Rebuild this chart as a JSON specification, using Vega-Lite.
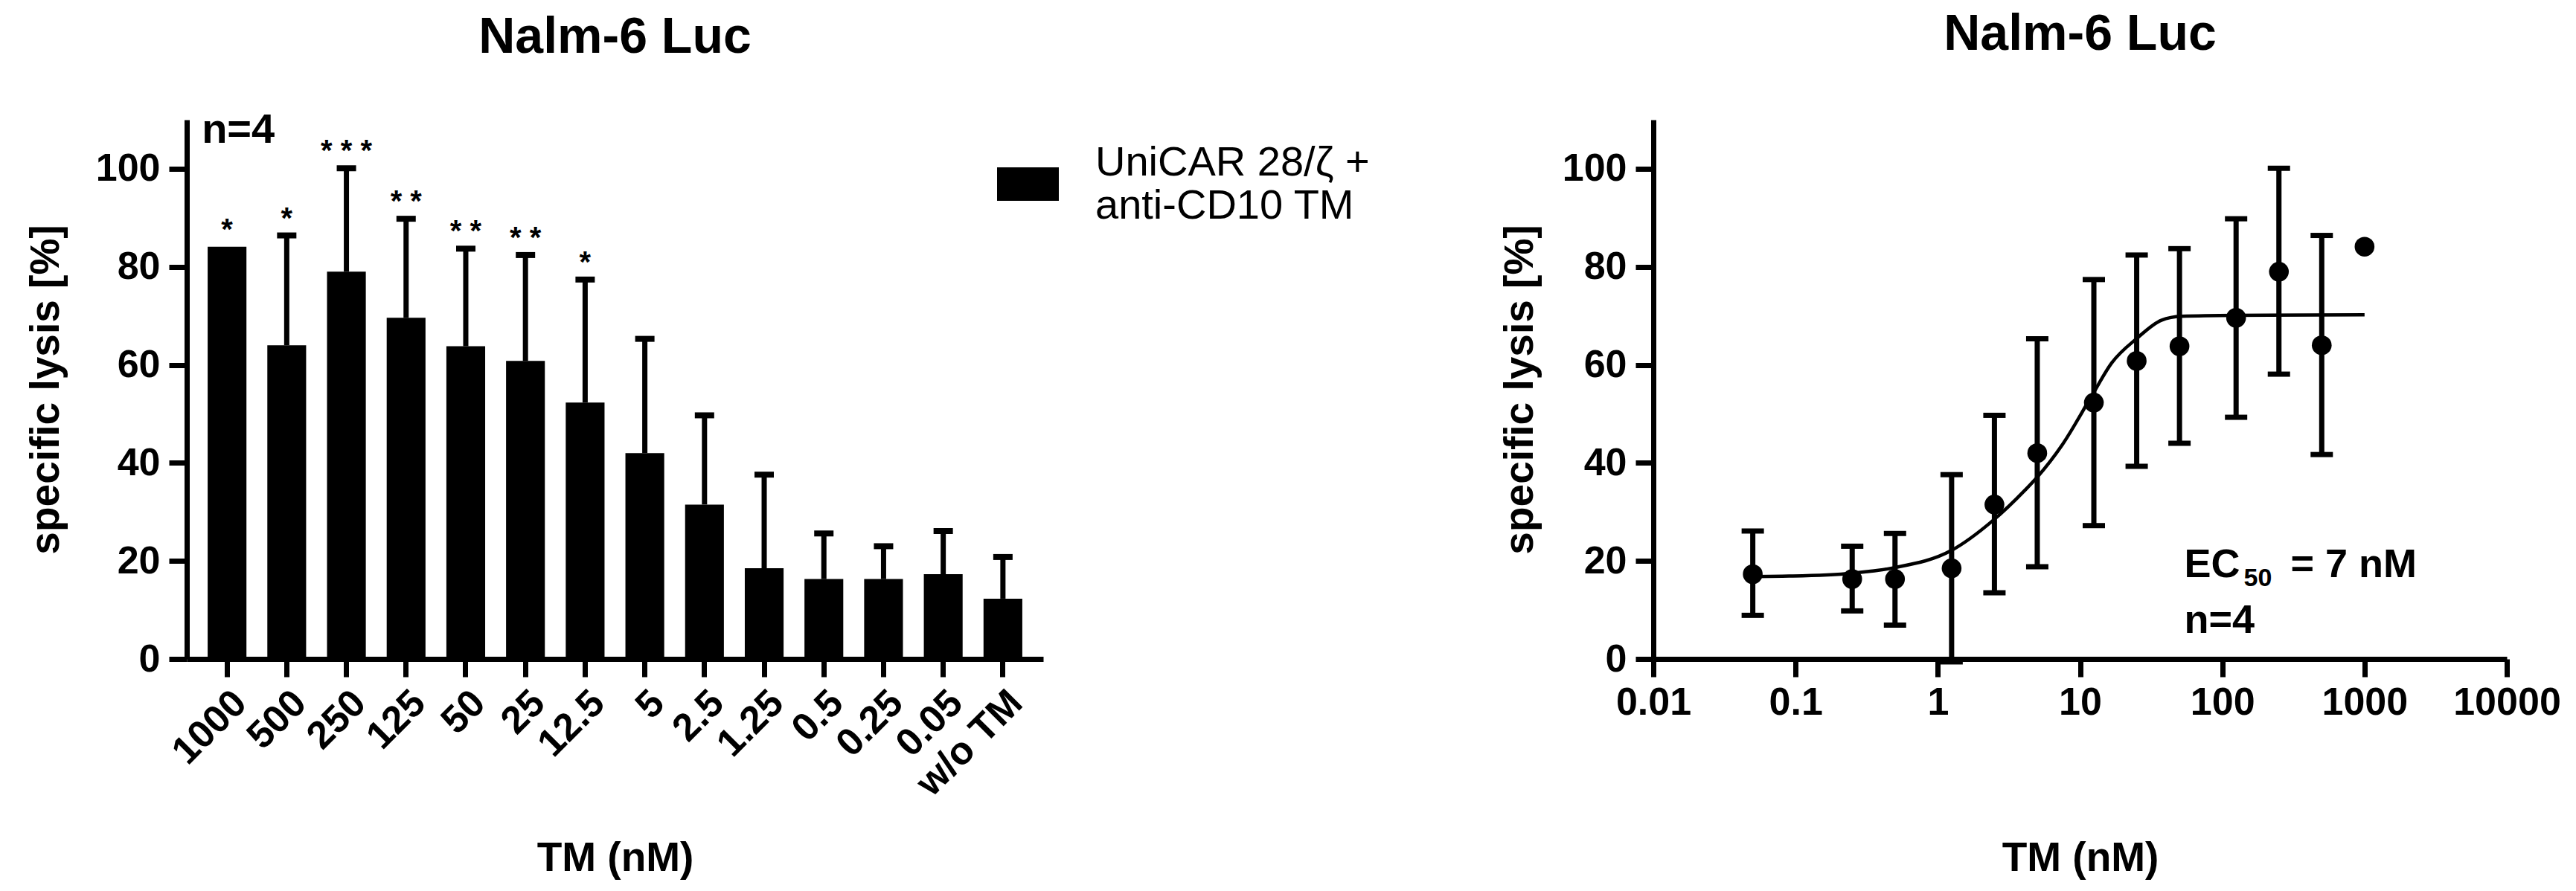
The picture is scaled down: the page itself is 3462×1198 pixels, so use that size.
{
  "$schema": "https://vega.github.io/schema/vega-lite/v6.json",
  "background": "white",
  "padding": {"left": 34, "top": 13, "right": 10, "bottom": 10},
  "datasets": {
    "lysis": [
      {"label": "1000", "conc": 1000, "mean": 84.1, "upper": null, "lower": null, "sig": "*"},
      {"label": "500", "conc": 500, "mean": 64.0, "upper": 86.4, "lower": 41.7, "sig": "*"},
      {"label": "250", "conc": 250, "mean": 79.0, "upper": 100.1, "lower": 58.1, "sig": "* * *"},
      {"label": "125", "conc": 125, "mean": 69.6, "upper": 89.8, "lower": 49.3, "sig": "* *"},
      {"label": "50", "conc": 50, "mean": 63.8, "upper": 83.7, "lower": 44.0, "sig": "* *"},
      {"label": "25", "conc": 25, "mean": 60.8, "upper": 82.4, "lower": 39.3, "sig": "* *"},
      {"label": "12.5", "conc": 12.5, "mean": 52.3, "upper": 77.4, "lower": 27.2, "sig": "*"},
      {"label": "5", "conc": 5, "mean": 42.0, "upper": 65.3, "lower": 18.8, "sig": ""},
      {"label": "2.5", "conc": 2.5, "mean": 31.5, "upper": 49.7, "lower": 13.5, "sig": ""},
      {"label": "1.25", "conc": 1.25, "mean": 18.5, "upper": 37.6, "lower": -0.6, "sig": ""},
      {"label": "0.5", "conc": 0.5, "mean": 16.3, "upper": 25.6, "lower": 6.9, "sig": ""},
      {"label": "0.25", "conc": 0.25, "mean": 16.3, "upper": 23.0, "lower": 9.8, "sig": ""},
      {"label": "0.05", "conc": 0.05, "mean": 17.3, "upper": 26.1, "lower": 8.9, "sig": ""},
      {"label": "w/o TM", "conc": null, "mean": 12.3, "upper": 20.8, "lower": null, "sig": ""}
    ],
    "fit": [
      {"x": 0.05, "y": 16.8},
      {"x": 0.09, "y": 16.9},
      {"x": 0.25, "y": 17.5},
      {"x": 0.49, "y": 18.6},
      {"x": 1.24, "y": 22.1},
      {"x": 2.43, "y": 28.2},
      {"x": 4.12, "y": 34.5},
      {"x": 5.0, "y": 37.1},
      {"x": 7.5, "y": 43.7},
      {"x": 12.2, "y": 53.9},
      {"x": 16.7, "y": 60.4},
      {"x": 25.1, "y": 65.4},
      {"x": 37.3, "y": 69.1},
      {"x": 51.6, "y": 69.9},
      {"x": 124, "y": 70.1},
      {"x": 1000, "y": 70.2}
    ]
  },
  "config": {
    "view": {"stroke": null},
    "font": "Liberation Sans",
    "axis": {
      "domainColor": "black", "domainWidth": 7, "tickColor": "black", "tickWidth": 7, "tickSize": 24,
      "labelColor": "black", "labelFont": "Liberation Sans", "labelFontSize": 52, "labelFontWeight": "bold",
      "titleColor": "black", "titleFont": "Liberation Sans", "titleFontSize": 55, "titleFontWeight": "bold",
      "grid": false
    },
    "axisY": {"labelPadding": 12},
    "axisX": {"labelPadding": 9},
    "title": {"fontSize": 68, "fontWeight": "bold", "font": "Liberation Sans", "color": "black", "anchor": "middle", "frame": "group", "baseline": "alphabetic"}
  },
  "spacing": 613,
  "hconcat": [
    {
      "width": 1151,
      "height": 725,
      "title": {"text": "Nalm-6 Luc", "offset": 62},
      "data": {"name": "lysis"},
      "layer": [
        {
          "mark": {"type": "bar"},
          "encoding": {
            "x": {"field": "label", "type": "nominal", "sort": null,
              "scale": {"paddingInner": 0.35, "paddingOuter": 0.35},
              "axis": {"title": "TM (nM)", "labelAngle": -45, "titleY": 284, "titleBaseline": "alphabetic"}},
            "y": {"field": "mean", "type": "quantitative",
              "scale": {"domain": [0, 110], "nice": false},
              "axis": {"title": "specific lysis [%]", "values": [0, 20, 40, 60, 80, 100], "titleX": -173, "titleBaseline": "alphabetic"}},
            "color": {"datum": "UniCAR 28/ζ + anti-CD10 TM", "scale": {"range": ["#000000"]},
              "legend": {"orient": "none", "legendX": 1089, "legendY": 45, "title": null, "padding": 0,
                "labelExpr": "['UniCAR 28/ζ +', 'anti-CD10 TM']",
                "labelFontSize": 56, "labelFontWeight": "normal", "labelFont": "Liberation Sans", "labelColor": "black",
                "labelLimit": 0, "labelOffset": 49, "labelBaseline": "bottom",
                "symbolType": "M-1,-0.54L1,-0.54L1,0.54L-1,0.54Z", "symbolSize": 6889,
                "symbolFillColor": "black", "symbolStrokeWidth": 0, "symbolOpacity": 1,
                "encoding": {"labels": {"update": {"lineHeight": {"value": 70}}}}}}
          }
        },
        {
          "transform": [{"filter": "isValid(datum.upper)"}],
          "mark": {"type": "rule", "strokeWidth": 7, "color": "black"},
          "encoding": {
            "x": {"field": "label", "type": "nominal", "sort": null},
            "y": {"field": "mean", "type": "quantitative"},
            "y2": {"field": "upper"}
          }
        },
        {
          "transform": [{"filter": "isValid(datum.upper)"}],
          "mark": {"type": "tick", "orient": "horizontal", "size": 26, "thickness": 8, "color": "black", "opacity": 1},
          "encoding": {
            "x": {"field": "label", "type": "nominal", "sort": null},
            "y": {"field": "upper", "type": "quantitative"}
          }
        },
        {
          "transform": [
            {"filter": "datum.sig != ''"},
            {"calculate": "isValid(datum.upper) ? datum.upper : datum.mean", "as": "star_y"}
          ],
          "mark": {"type": "text", "dy": -22, "fontSize": 40, "fontWeight": "bold", "baseline": "middle", "color": "black"},
          "encoding": {
            "x": {"field": "label", "type": "nominal", "sort": null},
            "y": {"field": "star_y", "type": "quantitative"},
            "text": {"field": "sig"}
          }
        },
        {
          "data": {"values": [{"t": "n=4"}]},
          "mark": {"type": "text", "align": "left", "baseline": "alphabetic", "dx": -34, "fontSize": 56, "fontWeight": "bold", "color": "black"},
          "encoding": {
            "x": {"datum": "1000", "type": "nominal"},
            "y": {"datum": 105.3, "type": "quantitative"},
            "text": {"field": "t"}
          }
        }
      ]
    },
    {
      "width": 1147,
      "height": 725,
      "title": {"text": "Nalm-6 Luc", "offset": 80},
      "layer": [
        {
          "data": {"name": "lysis"},
          "transform": [{"filter": "isValid(datum.conc) && isValid(datum.lower)"}],
          "mark": {"type": "rule", "strokeWidth": 7, "color": "black"},
          "encoding": {
            "x": {"field": "conc", "type": "quantitative",
              "scale": {"type": "log", "domain": [0.01, 10000], "nice": false},
              "axis": {"title": "TM (nM)", "values": [0.01, 0.1, 1, 10, 100, 1000, 10000], "format": "~g", "labelFlush": false, "labelOverlap": false, "labelAngle": 0, "titleY": 284, "titleBaseline": "alphabetic"}},
            "y": {"field": "lower", "type": "quantitative",
              "scale": {"domain": [0, 110], "nice": false},
              "axis": {"title": "specific lysis [%]", "values": [0, 20, 40, 60, 80, 100], "titleX": -163, "titleBaseline": "alphabetic"}},
            "y2": {"field": "upper"}
          }
        },
        {
          "data": {"name": "lysis"},
          "transform": [{"filter": "isValid(datum.conc) && isValid(datum.lower)"}],
          "mark": {"type": "tick", "orient": "horizontal", "size": 30, "thickness": 7, "color": "black", "opacity": 1},
          "encoding": {
            "x": {"field": "conc", "type": "quantitative"},
            "y": {"field": "upper", "type": "quantitative"}
          }
        },
        {
          "data": {"name": "lysis"},
          "transform": [{"filter": "isValid(datum.conc) && isValid(datum.lower)"}],
          "mark": {"type": "tick", "orient": "horizontal", "size": 30, "thickness": 7, "color": "black", "opacity": 1},
          "encoding": {
            "x": {"field": "conc", "type": "quantitative"},
            "y": {"field": "lower", "type": "quantitative"}
          }
        },
        {
          "data": {"name": "fit"},
          "mark": {"type": "line", "color": "black", "strokeWidth": 4.5, "interpolate": "monotone"},
          "encoding": {
            "x": {"field": "x", "type": "quantitative"},
            "y": {"field": "y", "type": "quantitative"}
          }
        },
        {
          "data": {"name": "lysis"},
          "transform": [{"filter": "isValid(datum.conc)"}],
          "mark": {"type": "point", "filled": true, "size": 707, "color": "black", "opacity": 1},
          "encoding": {
            "x": {"field": "conc", "type": "quantitative"},
            "y": {"field": "mean", "type": "quantitative"}
          }
        },
        {
          "data": {"values": [{"t": "EC"}]},
          "mark": {"type": "text", "align": "left", "baseline": "alphabetic", "fontSize": 54, "fontWeight": "bold", "color": "black"},
          "encoding": {
            "x": {"datum": 54, "type": "quantitative"},
            "y": {"datum": 16.7, "type": "quantitative"},
            "text": {"field": "t"}
          }
        },
        {
          "data": {"values": [{"t": "50"}]},
          "mark": {"type": "text", "align": "left", "baseline": "alphabetic", "dx": 80, "dy": 12, "fontSize": 34, "fontWeight": "bold", "color": "black"},
          "encoding": {
            "x": {"datum": 54, "type": "quantitative"},
            "y": {"datum": 16.7, "type": "quantitative"},
            "text": {"field": "t"}
          }
        },
        {
          "data": {"values": [{"t": "= 7 nM"}]},
          "mark": {"type": "text", "align": "left", "baseline": "alphabetic", "dx": 143, "fontSize": 54, "fontWeight": "bold", "color": "black"},
          "encoding": {
            "x": {"datum": 54, "type": "quantitative"},
            "y": {"datum": 16.7, "type": "quantitative"},
            "text": {"field": "t"}
          }
        },
        {
          "data": {"values": [{"t": "n=4"}]},
          "mark": {"type": "text", "align": "left", "baseline": "alphabetic", "fontSize": 54, "fontWeight": "bold", "color": "black"},
          "encoding": {
            "x": {"datum": 54, "type": "quantitative"},
            "y": {"datum": 5.3, "type": "quantitative"},
            "text": {"field": "t"}
          }
        }
      ]
    }
  ]
}
